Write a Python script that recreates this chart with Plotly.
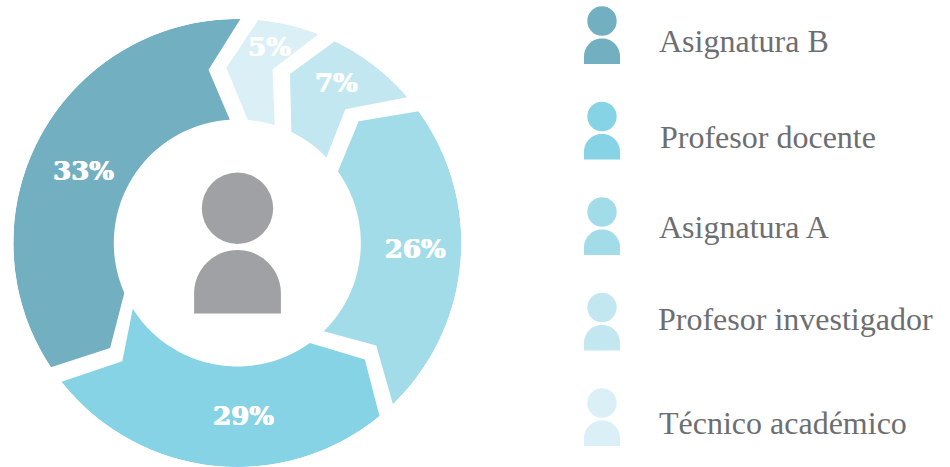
import math
import plotly.graph_objects as go

W, H = 950, 467
# Chart content, clockwise from the top
categories = ["Técnico académico", "Profesor investigador", "Asignatura A", "Profesor docente", "Asignatura B"]
percent = [5, 7, 26, 29, 33]
colors = ["#DAEFF6", "#C3E7F0", "#A2DCE9", "#86D3E6", "#72B0C1"]
# Legend order and label positions
legend_order = ["Asignatura B", "Profesor docente", "Asignatura A", "Profesor investigador", "Técnico académico"]
legend_colors = ["#72B0C1", "#86D3E6", "#A2DCE9", "#C3E7F0", "#DAEFF6"]
legend_x = [657, 658, 657, 656, 657]
legend_y = [41, 137, 227, 319, 423]
# Angles (deg, clockwise from top) for the zig-zag gap before each sector
gap_outer = [3.1, 23.5, 51.7, 138.3, 234.0]
gap_notch = [-6.5, 14.4, 41.9, 129.4, 227.3]
gap_inner = [0.7, 21.8, 50.4, 139.8, 242.0]
notch_r = [175.6, 177, 172, 172.7, 165]
label_theta = [9.4, 32.2, 92.6, 178, 294.4]
label_r = [196.6, 185.6, 178, 176, 169]

CX, CY, R_OUT, R_IN, HALF_GAP = 237.3, 243, 224, 123.5, 9


def arc(a, b, r, n=60):
    return [a + (b - a) * i / n for i in range(n + 1)], [r] * (n + 1)


def sector(i):
    j = (i + 1) % 5
    wrap = 360 if j == 0 else 0
    d = lambda r: math.degrees(HALF_GAP / r)
    t1, r1 = arc(gap_outer[i] + d(R_OUT), gap_outer[j] + wrap - d(R_OUT), R_OUT)
    t2, r2 = arc(gap_inner[j] + wrap - d(R_IN), gap_inner[i] + d(R_IN), R_IN)
    theta = t1 + [gap_notch[j] + wrap - d(notch_r[j])] + t2 + [gap_notch[i] + d(notch_r[i])] + [t1[0]]
    r = r1 + [notch_r[j]] + r2 + [notch_r[i]] + [r1[0]]
    return theta, r


fig = go.Figure()
for i, name in enumerate(categories):
    th, rr = sector(i)
    fig.add_trace(go.Scatterpolar(theta=th, r=rr, mode="lines", fill="toself", fillcolor=colors[i],
                                  line=dict(width=0, color=colors[i]), name=name, hoverinfo="name"))
fig.add_trace(go.Scatterpolar(theta=label_theta, r=label_r, mode="text",
                              text=[f"{p}%" for p in percent],
                              textfont=dict(family="DejaVu Serif", size=26, color="white", weight="bold",
                                            shadow="0.7px 0 0 white, -0.4px 0 0 white"),
                              textposition="middle center", hoverinfo="skip"))

shapes = []


def px(v):
    return v / W


def py(v):
    return 1 - v / H


def person(cx, head_y, head_r, body_r, top, bottom, color):
    shapes.append(dict(type="circle", xref="paper", yref="paper", x0=px(cx - head_r), x1=px(cx + head_r),
                       y0=py(head_y + head_r), y1=py(head_y - head_r), fillcolor=color, line_width=0, layer="above"))
    pts = [(cx + body_r * math.cos(math.pi * k / 40), top + body_r - body_r * math.sin(math.pi * k / 40)) for k in range(41)]
    path = "M%.5f,%.5f " % (px(cx + body_r), py(bottom))
    path += " ".join("L%.5f,%.5f" % (px(x), py(y)) for x, y in pts)
    path += " L%.5f,%.5f Z" % (px(cx - body_r), py(bottom))
    shapes.append(dict(type="path", xref="paper", yref="paper", path=path, fillcolor=color, line_width=0, layer="above"))


person(237.5, 208.3, 35.7, 43.4, 250, 313.5, "#A0A1A5")
annotations = []
for k, (lab, col) in enumerate(zip(legend_order, legend_colors)):
    person(602, 21 + 95.5 * k, 14.7, 18, 38.4 + 95.5 * k, 64 + 95.5 * k, col)
    annotations.append(dict(text=lab, xref="paper", yref="paper", x=px(legend_x[k]), y=py(legend_y[k]),
                            xanchor="left", yanchor="middle", showarrow=False,
                            font=dict(family="Liberation Serif", size=32, color="#6D6E71")))

fig.update_layout(
    width=W, height=H, margin=dict(l=0, r=0, t=0, b=0), showlegend=False,
    paper_bgcolor="white", plot_bgcolor="white",
    polar=dict(domain=dict(x=[px(CX - R_OUT), px(CX + R_OUT)], y=[py(CY + R_OUT), py(CY - R_OUT)]),
               bgcolor="rgba(0,0,0,0)",
               radialaxis=dict(visible=False, range=[0, R_OUT]),
               angularaxis=dict(visible=False, direction="clockwise", rotation=90)),
    shapes=shapes, annotations=annotations,
)
fig.write_html("out.html", config={"displayModeBar": False},
               post_script="document.body.style.margin='0';document.body.style.overflow='hidden';")
